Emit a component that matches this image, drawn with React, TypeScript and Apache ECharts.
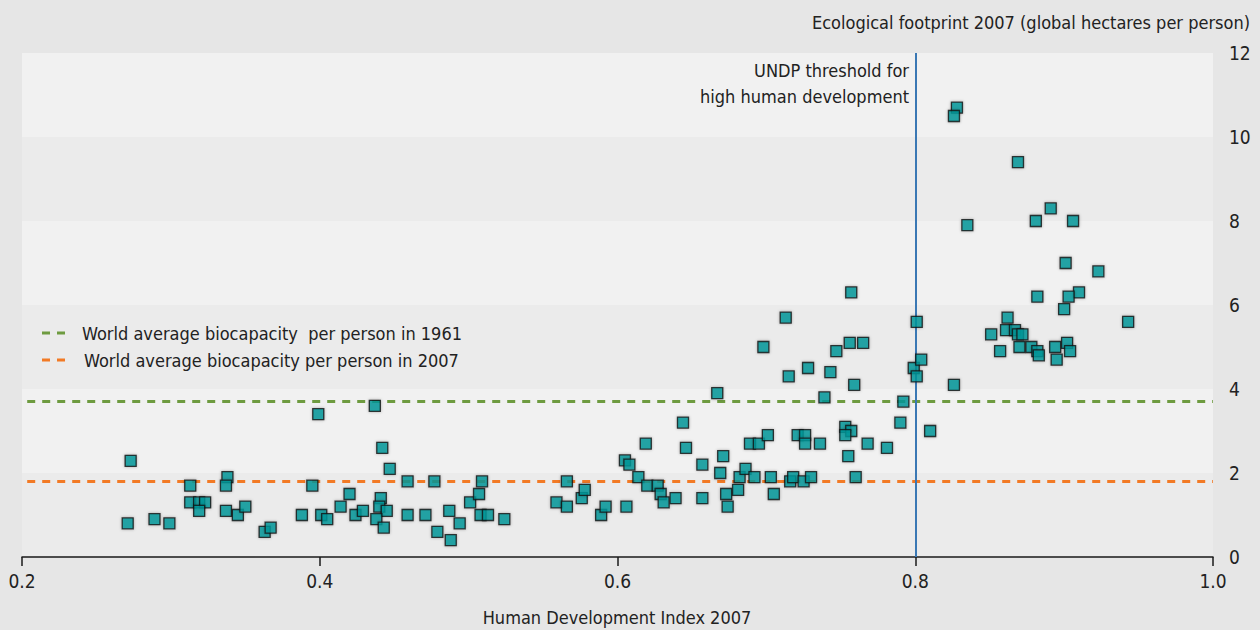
import React, { useEffect, useRef } from "react";
import * as echarts from "echarts";

const hdi = [
  0.271, 0.273, 0.289, 0.299, 0.313, 0.313, 0.319, 0.323, 0.319, 0.338,
  0.337, 0.337, 0.345, 0.35, 0.363, 0.367, 0.388, 0.395, 0.399, 0.401,
  0.405, 0.414, 0.42, 0.424, 0.429, 0.437, 0.442, 0.447, 0.441, 0.44,
  0.445, 0.438, 0.443, 0.459, 0.459, 0.471, 0.477, 0.487, 0.479, 0.488,
  0.494, 0.501, 0.507, 0.509, 0.508, 0.513, 0.524, 0.559, 0.566, 0.566,
  0.576, 0.578, 0.589, 0.592, 0.606, 0.605, 0.608, 0.619, 0.614, 0.62,
  0.627, 0.629, 0.631, 0.639, 0.644, 0.646, 0.657, 0.657, 0.667, 0.669,
  0.671, 0.673, 0.674, 0.681, 0.682, 0.686, 0.689, 0.695, 0.692, 0.698,
  0.701, 0.703, 0.705, 0.713, 0.715, 0.716, 0.718, 0.721, 0.726, 0.726,
  0.725, 0.73, 0.728, 0.736, 0.739, 0.743, 0.747, 0.756, 0.765, 0.759,
  0.753, 0.757, 0.753, 0.755, 0.76, 0.768, 0.781, 0.79, 0.792, 0.801,
  0.799, 0.801, 0.804, 0.757, 0.826, 0.81, 0.828, 0.826, 0.869, 0.891,
  0.881, 0.906, 0.835, 0.901, 0.923, 0.91, 0.903, 0.882, 0.9, 0.943,
  0.862, 0.861, 0.867, 0.851, 0.869, 0.872, 0.857, 0.87, 0.878, 0.882,
  0.883, 0.894, 0.902, 0.904, 0.895,
];

const footprint = [
  0.8, 2.29, 0.9, 0.8, 1.7, 1.3, 1.3, 1.3, 1.1, 1.9,
  1.7, 1.1, 1.0, 1.2, 0.6, 0.7, 1.0, 1.7, 3.4, 1.0,
  0.9, 1.2, 1.5, 1.0, 1.1, 3.6, 2.6, 2.1, 1.4, 1.2,
  1.1, 0.9, 0.7, 1.8, 1.0, 1.0, 1.8, 1.1, 0.6, 0.4,
  0.8, 1.3, 1.5, 1.8, 1.0, 1.0, 0.9, 1.3, 1.2, 1.8,
  1.4, 1.6, 1.0, 1.2, 1.2, 2.3, 2.2, 2.7, 1.9, 1.7,
  1.7, 1.5, 1.3, 1.4, 3.2, 2.6, 2.2, 1.4, 3.9, 2.0,
  2.4, 1.5, 1.2, 1.6, 1.9, 2.1, 2.7, 2.7, 1.9, 5.0,
  2.9, 1.9, 1.5, 5.7, 4.3, 1.8, 1.9, 2.9, 2.9, 2.7,
  1.8, 1.9, 4.5, 2.7, 3.8, 4.4, 4.9, 5.1, 5.1, 4.1,
  3.1, 3.0, 2.9, 2.4, 1.9, 2.7, 2.6, 3.2, 3.7, 5.6,
  4.5, 4.3, 4.7, 6.3, 4.1, 3.0, 10.7, 10.5, 9.4, 8.3,
  8.0, 8.0, 7.9, 7.0, 6.8, 6.3, 6.2, 6.2, 5.9, 5.6,
  5.7, 5.4, 5.4, 5.3, 5.3, 5.3, 4.9, 5.0, 5.0, 4.9,
  4.8, 5.0, 5.1, 4.9, 4.7,
];

const biocapacity1961 = 3.7;
const biocapacity2007 = 1.8;
const undpThreshold = 0.8;

const xTitle = "Human Development Index 2007";
const yTitle = "Ecological footprint 2007 (global hectares per person)";
const legend1961 = "World average biocapacity  per person in 1961";
const legend2007 = "World average biocapacity per person in 2007";
const thresholdLines = ["UNDP threshold for", "high human development"];

const FONT = "'DejaVu Sans Condensed', 'Liberation Sans', sans-serif";
const GREEN = "#6e9b40";
const ORANGE = "#f27a25";
const BLUE = "#3a78b4";

const txt = (text: string, x: number, y: number, align: string) => ({
  type: "text",
  x,
  y,
  z: 100,
  silent: true,
  style: {
    text,
    fill: "#222",
    font: `18px ${FONT}`,
    textAlign: align,
    textVerticalAlign: "middle",
  },
});

export default function App() {
  const ref = useRef<HTMLDivElement>(null);

  useEffect(() => {
    document.body.style.margin = "0";
    if (!ref.current) return;
    const chart = echarts.init(ref.current, undefined, { renderer: "svg" });
    const points = hdi.map((x, i) => [x, footprint[i]]);

    chart.setOption({
      animation: false,
      backgroundColor: "#e6e6e6",
      textStyle: { fontFamily: FONT },
      grid: { left: 22, right: 47, top: 53, bottom: 73 },
      xAxis: {
        type: "value",
        min: 0.2,
        max: 1.0,
        interval: 0.2,
        axisLine: { show: true, onZero: false, lineStyle: { color: "#1a1a1a", width: 1.5 } },
        axisTick: { show: true, length: 9, lineStyle: { color: "#1a1a1a", width: 1.5 } },
        axisLabel: {
          fontSize: 19,
          color: "#222",
          margin: 14,
          fontFamily: FONT,
          formatter: (v: number) => v.toFixed(1),
        },
        splitLine: { show: false },
      },
      yAxis: {
        type: "value",
        position: "right",
        min: 0,
        max: 12,
        interval: 2,
        axisLine: { show: false },
        axisTick: { show: false },
        axisLabel: { fontSize: 19, color: "#222", margin: 16, fontFamily: FONT },
        splitLine: { show: false },
        splitArea: { show: true, areaStyle: { color: ["#ebebeb", "#f1f1f1"] } },
      },
      series: [
        {
          type: "scatter",
          data: points,
          symbol: "rect",
          symbolSize: 11,
          z: 5,
          itemStyle: {
            color: "#00999b",
            borderColor: "#111",
            borderWidth: 1.3,
            shadowBlur: 3,
            shadowColor: "rgba(0,0,0,0.35)",
          },
          markLine: {
            silent: true,
            symbol: "none",
            z: 3,
            label: { show: false },
            data: [
              [
                { coord: [0.2035, biocapacity1961], lineStyle: { color: GREEN, width: 3, type: [8, 7] } },
                { coord: [1.0, biocapacity1961] },
              ],
              [
                { coord: [0.2035, biocapacity2007], lineStyle: { color: ORANGE, width: 3, type: [8, 7] } },
                { coord: [1.0, biocapacity2007] },
              ],
              { xAxis: undpThreshold, lineStyle: { color: BLUE, width: 2, type: "solid" } },
            ],
          },
        },
      ],
      graphic: [
        txt(yTitle, 1250, 22, "right"),
        txt(xTitle, 617, 617, "center"),
        txt(thresholdLines[0], 909, 70, "right"),
        txt(thresholdLines[1], 909, 96, "right"),
        {
          type: "line",
          z: 100,
          silent: true,
          shape: { x1: 42, y1: 333, x2: 72, y2: 333 },
          style: { stroke: GREEN, lineWidth: 3, lineDash: [8, 7] },
        },
        txt(legend1961, 82, 333, "left"),
        {
          type: "line",
          z: 100,
          silent: true,
          shape: { x1: 42, y1: 360, x2: 72, y2: 360 },
          style: { stroke: ORANGE, lineWidth: 3, lineDash: [8, 7] },
        },
        txt(legend2007, 84, 360, "left"),
      ],
    });

    return () => chart.dispose();
  }, []);

  return (
    <div
      ref={ref}
      style={{ position: "fixed", left: 0, top: 0, width: 1260, height: 630 }}
    />
  );
}
